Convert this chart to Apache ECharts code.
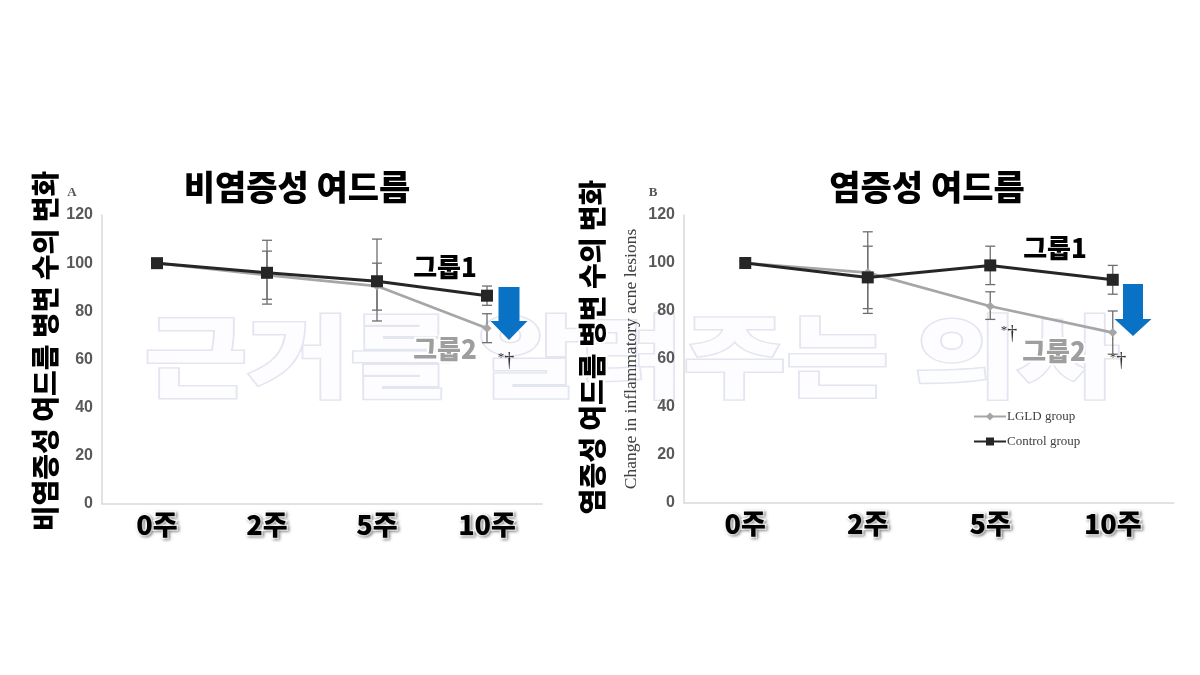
<!DOCTYPE html>
<html>
<head>
<meta charset="utf-8">
<script src="https://cdn.jsdelivr.net/npm/echarts@6/dist/echarts.min.js"></script>
<style>
  html, body { margin: 0; background: #fff; }
  #main { width: 1200px; height: 675px; }
</style>
</head>
<body>
<div id="main"></div>
<script>
const weeks = ['0주', '2주', '5주', '10주'];
const yMin = 0, yMax = 120, yStep = 20;

// A: 비염증성 여드름
const lgldNon = [100, 95, 90.5, 73];
const ctrlNon = [100, 96, 92.5, 86.5];
const lgldNonLow = [null, 85, 80.5, 67];
const lgldNonHigh = [null, 105, 100, 79];
const ctrlNonLow = [null, 83, 76, 82.5];
const ctrlNonHigh = [null, 109.5, 110, 90.5];

// B: 염증성 여드름
const lgldInf = [100, 96, 82, 71];
const ctrlInf = [100, 94, 99, 93];
const lgldInfLow = [null, 79, 76.5, 62];
const lgldInfHigh = [null, 113, 88, 80];
const ctrlInfLow = [null, 81, 91, 87];
const ctrlInfHigh = [null, 107, 107, 99];

const KR = '"Noto Sans CJK KR", sans-serif';
const SERIF = '"Liberation Serif", "DejaVu Serif", serif';
const GRAY = '#a6a6a6', DARK = '#262626', BAR = '#6e6e6e';

function errData(low, high) {
    return weeks.map((w, i) => low[i] == null ? null : [i, low[i], high[i]]).filter(d => d);
}

function errSeries(idx, low, high) {
    return {
        type: 'custom',
        xAxisIndex: idx,
        yAxisIndex: idx,
        z: 1,
        silent: true,
        data: errData(low, high),
        renderItem: function (params, api) {
            const top = api.coord([api.value(0), api.value(2)]);
            const bot = api.coord([api.value(0), api.value(1)]);
            const w = 5;
            const st = {stroke: BAR, lineWidth: 1.3};
            return {
                type: 'group',
                children: [
                    {type: 'line', shape: {x1: top[0], y1: top[1], x2: bot[0], y2: bot[1]}, style: st},
                    {type: 'line', shape: {x1: top[0] - w, y1: top[1], x2: top[0] + w, y2: top[1]}, style: st},
                    {type: 'line', shape: {x1: bot[0] - w, y1: bot[1], x2: bot[0] + w, y2: bot[1]}, style: st}
                ]
            };
        }
    };
}

function lineSeries(idx, name, data) {
    const dark = name === 'Control group';
    return {
        name: name,
        type: 'line',
        xAxisIndex: idx,
        yAxisIndex: idx,
        z: 3,
        data: data,
        symbol: dark ? 'rect' : 'diamond',
        symbolSize: dark ? 12 : 9,
        lineStyle: {color: dark ? DARK : GRAY, width: dark ? 3 : 2.7},
        itemStyle: {color: dark ? DARK : GRAY}
    };
}

function xAx(idx) {
    return {
        type: 'category',
        gridIndex: idx,
        data: weeks,
        axisLine: {lineStyle: {color: '#d9d9d9', width: 1.5}},
        axisTick: {show: false},
        axisLabel: {
            margin: 7,
            fontFamily: KR,
            fontWeight: 900,
            fontSize: 27,
            color: '#000',
            textBorderColor: '#fff',
            textBorderWidth: 3,
            textShadowColor: 'rgba(0,0,0,0.35)',
            textShadowBlur: 3,
            textShadowOffsetX: 1.5,
            textShadowOffsetY: 1.5
        }
    };
}

function yAx(idx) {
    return {
        type: 'value',
        gridIndex: idx,
        min: yMin,
        max: yMax,
        interval: yStep,
        splitLine: {show: false},
        axisLine: {show: true, lineStyle: {color: '#d9d9d9', width: 1.5}},
        axisTick: {show: false},
        axisLabel: {
            margin: 9,
            fontFamily: '"Liberation Sans", Arial, sans-serif',
            fontWeight: 'bold',
            fontSize: 16,
            color: '#595959'
        }
    };
}

// outlined bold Korean text
function krText(text, x, y, size, color, rotation) {
    return {
        type: 'text',
        x: x,
        y: y,
        rotation: rotation || 0,
        style: {
            text: text,
            font: '900 ' + size + 'px ' + KR,
            fill: color,
            stroke: '#fff',
            lineWidth: 4,
            align: 'center',
            verticalAlign: 'middle',
            shadowColor: 'rgba(0,0,0,0.35)',
            shadowBlur: 3,
            shadowOffsetX: 1.5,
            shadowOffsetY: 1.5
        }
    };
}

function plainText(text, x, y, font, color, rotation) {
    return {
        type: 'text',
        x: x,
        y: y,
        rotation: rotation || 0,
        style: {text: text, font: font, fill: color, align: 'center', verticalAlign: 'middle'}
    };
}

// significance mark: small raised asterisk + dagger
function sigMark(x, y) {
    return {
        type: 'text',
        x: x,
        y: y,
        style: {
            text: '{a|*}{b|†}',
            align: 'center',
            verticalAlign: 'middle',
            rich: {
                a: {fontFamily: SERIF, fontSize: 13, fill: '#333', verticalAlign: 'top', padding: [0, 0, 6, 0]},
                b: {fontFamily: SERIF, fontSize: 20, fill: '#333'}
            }
        }
    };
}

function arrow(cx, top, headY, tip, shaftW, headW) {
    return {
        type: 'polygon',
        shape: {
            points: [
                [cx - shaftW / 2, top], [cx + shaftW / 2, top], [cx + shaftW / 2, headY],
                [cx + headW / 2, headY], [cx, tip], [cx - headW / 2, headY], [cx - shaftW / 2, headY]
            ]
        },
        style: {fill: '#0a72c4'}
    };
}

const chart = echarts.init(document.getElementById('main'));

const option = {
    animation: false,
    backgroundColor: '#fff',
    grid: [
        {left: 102, top: 215, width: 440, height: 289},
        {left: 684, top: 215, width: 490, height: 288}
    ],
    xAxis: [xAx(0), xAx(1)],
    yAxis: [yAx(0), yAx(1)],
    legend: {
        orient: 'vertical',
        left: 968,
        top: 405,
        itemWidth: 32,
        itemHeight: 10,
        itemGap: 12,
        selectedMode: false,
        data: ['LGLD group', 'Control group'],
        textStyle: {fontFamily: SERIF, fontSize: 13, color: '#404040', padding: [0, 0, 0, -4]}
    },
    graphic: [
        // watermark
        {
            type: 'text',
            x: 632,
            y: 356,
            scaleX: 1.24,
            z: -10,
            silent: true,
            style: {
                text: '근거를 알려주는 의사',
                font: '900 90px ' + KR,
                fill: '#fdfdff',
                stroke: '#e3e6f0',
                lineWidth: 3,
                align: 'center',
                verticalAlign: 'middle'
            }
        },
        krText('비염증성 여드름', 297, 187, 34, '#000'),
        krText('염증성 여드름', 927, 187, 34, '#000'),
        krText('비염증성 여드름 병변 수의 변화', 45, 351, 28, '#000', Math.PI / 2),
        krText('염증성 여드름 병변 수의 변화', 592, 347, 28, '#000', Math.PI / 2),
        plainText('Change in inflammatory acne lesions', 631, 359, '17.5px ' + SERIF, '#404040', Math.PI / 2),
        plainText('A', 72, 193, 'bold 13px ' + SERIF, '#555'),
        plainText('B', 653, 193, 'bold 13px ' + SERIF, '#555'),
        krText('그룹1', 445, 267, 26, '#000'),
        krText('그룹2', 445, 349, 26, '#9e9e9e'),
        krText('그룹1', 1055, 248, 26, '#000'),
        krText('그룹2', 1054, 351, 26, '#9e9e9e'),
        sigMark(506, 361),
        sigMark(1009, 334),
        sigMark(1118, 361),
        arrow(509, 287, 321, 340, 21, 37),
        arrow(1133, 284, 319, 336, 20, 37)
    ],
    series: [
        errSeries(0, lgldNonLow, lgldNonHigh),
        errSeries(0, ctrlNonLow, ctrlNonHigh),
        lineSeries(0, 'LGLD group', lgldNon),
        lineSeries(0, 'Control group', ctrlNon),
        errSeries(1, lgldInfLow, lgldInfHigh),
        errSeries(1, ctrlInfLow, ctrlInfHigh),
        lineSeries(1, 'LGLD group', lgldInf),
        lineSeries(1, 'Control group', ctrlInf)
    ]
};

chart.setOption(option);
</script>
</body>
</html>
